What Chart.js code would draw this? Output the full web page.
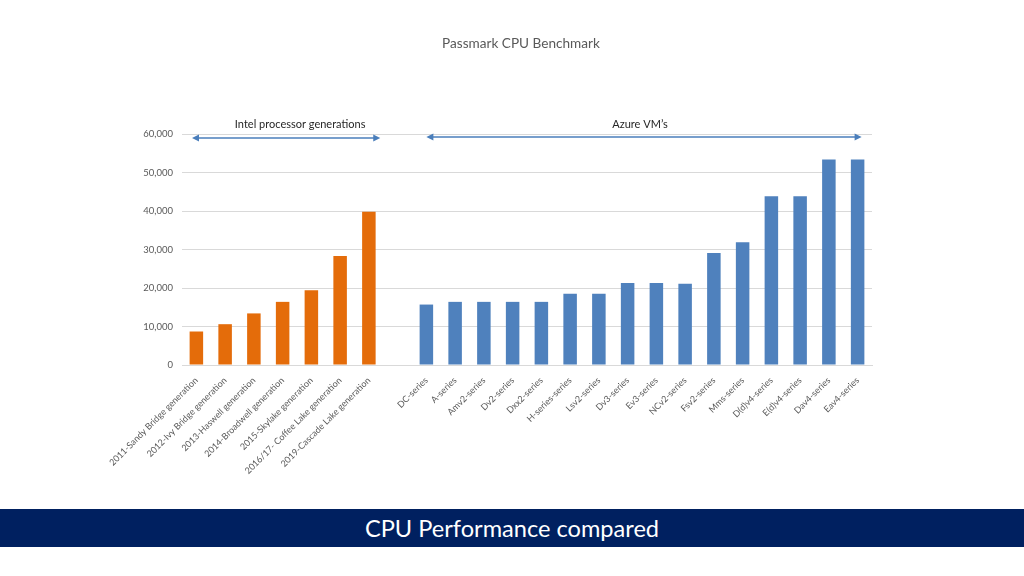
<!DOCTYPE html>
<html>
<head>
<meta charset="utf-8">
<script src="https://cdn.jsdelivr.net/npm/chart.js@4"></script>
<style>
  html, body { margin: 0; padding: 0; background: #ffffff; }
  body { width: 1024px; height: 576px; position: relative; overflow: hidden; font-family: Lato, "Open Sans", sans-serif; }
  #wrap { position: absolute; left: 0; top: 0; width: 1024px; height: 500px; }
  #banner { position: absolute; left: 0; top: 509px; width: 1024px; height: 38px; background: #002060; color: #ffffff;
            font-family: Lato, "Open Sans", sans-serif; font-size: 23.6px; line-height: 38px; text-align: center; }
</style>
</head>
<body>
<div id="wrap"><canvas id="c" width="1024" height="500"></canvas></div>
<div id="banner">CPU Performance compared</div>
<script>
const chartTitle = "Passmark CPU Benchmark";
const intelLabels = ["2011-Sandy Bridge generation", "2012-Ivy Bridge generation", "2013-Haswell generation",
  "2014-Broadwell generation", "2015-Skylake generation", "2016/17- Coffee Lake generation", "2019-Cascade Lake generation"];
const intelValues = [8700, 10600, 13400, 16400, 19400, 28300, 39800];
const azureLabels = ["DC-series", "A-series", "Amv2-series", "Dv2-series", "Dxx2-series", "H-series-series", "Lsv2-series",
  "Dv3-series", "Ev3-series", "NCv2-series", "Fsv2-series", "Mms-series", "D(d)v4-series", "E(d)v4-series", "Dav4-series", "Eav4-series"];
const azureValues = [15700, 16400, 16400, 16400, 16400, 18500, 18500, 21300, 21300, 21100, 29100, 31900, 43800, 43800, 53400, 53400];
const groupLabels = ["Intel processor generations", "Azure VM\u2019s"];
const yTicks = [0, 10000, 20000, 30000, 40000, 50000, 60000];

const intelColor = "#E46C0A";
const azureColor = "#4F81BD";

const labels = intelLabels.concat([""], azureLabels);
const values = intelValues.concat([null], azureValues);
const colors = intelValues.map(() => intelColor).concat([azureColor], azureValues.map(() => azureColor));

const decorPlugin = {
  id: "decor",
  afterDraw(chart) {
    const ctx = chart.ctx;
    const x = chart.scales.x;
    const ca = chart.chartArea;
    ctx.save();
    // title
    ctx.fillStyle = "#595959";
    ctx.font = "13.6px Lato, 'Open Sans', sans-serif";
    ctx.textAlign = "center";
    ctx.textBaseline = "middle";
    ctx.fillText(chartTitle, 521, 44);

    const half = (x.getPixelForValue(1) - x.getPixelForValue(0)) / 2;
    const iStart = x.getPixelForValue(0) - half + 10;
    const iEnd = x.getPixelForValue(intelLabels.length - 1) + half - 3;
    const aStart = x.getPixelForValue(intelLabels.length + 1);
    const aEnd = x.getPixelForValue(labels.length - 1) + 4;
    const yA = ca.top + 4;

    function arrow(x1, x2, y) {
      ctx.strokeStyle = "#4A7EBB";
      ctx.fillStyle = "#4A7EBB";
      ctx.lineWidth = 1.3;
      ctx.beginPath();
      ctx.moveTo(x1 + 5, y);
      ctx.lineTo(x2 - 5, y);
      ctx.stroke();
      ctx.beginPath();
      ctx.moveTo(x1, y); ctx.lineTo(x1 + 7, y - 3.5); ctx.lineTo(x1 + 7, y + 3.5); ctx.closePath(); ctx.fill();
      ctx.beginPath();
      ctx.moveTo(x2, y); ctx.lineTo(x2 - 7, y - 3.5); ctx.lineTo(x2 - 7, y + 3.5); ctx.closePath(); ctx.fill();
    }
    arrow(iStart, iEnd, yA);
    arrow(aStart, aEnd, yA - 1);

    ctx.fillStyle = "#262626";
    ctx.font = "11px Lato, 'Open Sans', sans-serif";
    ctx.fillText(groupLabels[0], (iStart + iEnd) / 2 + 14, ca.top - 10);
    ctx.fillText(groupLabels[1], (aStart + aEnd) / 2 - 4, ca.top - 10);
    ctx.restore();
  }
};

new Chart(document.getElementById("c"), {
  type: "bar",
  data: {
    labels: labels,
    datasets: [{
      data: values,
      backgroundColor: colors,
      borderWidth: 0,
      categoryPercentage: 1.0,
      barPercentage: 0.47
    }]
  },
  plugins: [decorPlugin],
  options: {
    responsive: false,
    animation: false,
    devicePixelRatio: 1,
    layout: { padding: { top: 134, right: 152, left: 0, bottom: 0 } },
    plugins: { legend: { display: false }, tooltip: { enabled: false }, title: { display: false } },
    scales: {
      x: {
        grid: { display: false },
        border: { display: true, color: "#D9D9D9", width: 1 },
        ticks: {
          autoSkip: false,
          minRotation: 45,
          maxRotation: 45,
          color: "#595959",
          font: { family: "Lato, 'Open Sans', sans-serif", size: 9 },
          padding: 2
        },
        afterFit(s) { s.height = 135; }
      },
      y: {
        min: 0,
        max: 60000,
        afterBuildTicks(s) { s.ticks = yTicks.map(v => ({ value: v })); },
        grid: { color: "#D9D9D9", lineWidth: 1, drawTicks: false },
        border: { display: false },
        ticks: {
          color: "#595959",
          font: { family: "Lato, 'Open Sans', sans-serif", size: 9.5 },
          padding: 9,
          callback: v => v.toLocaleString("en-US")
        },
        afterFit(s) { s.width = 182; }
      }
    }
  }
});
</script>
</body>
</html>
